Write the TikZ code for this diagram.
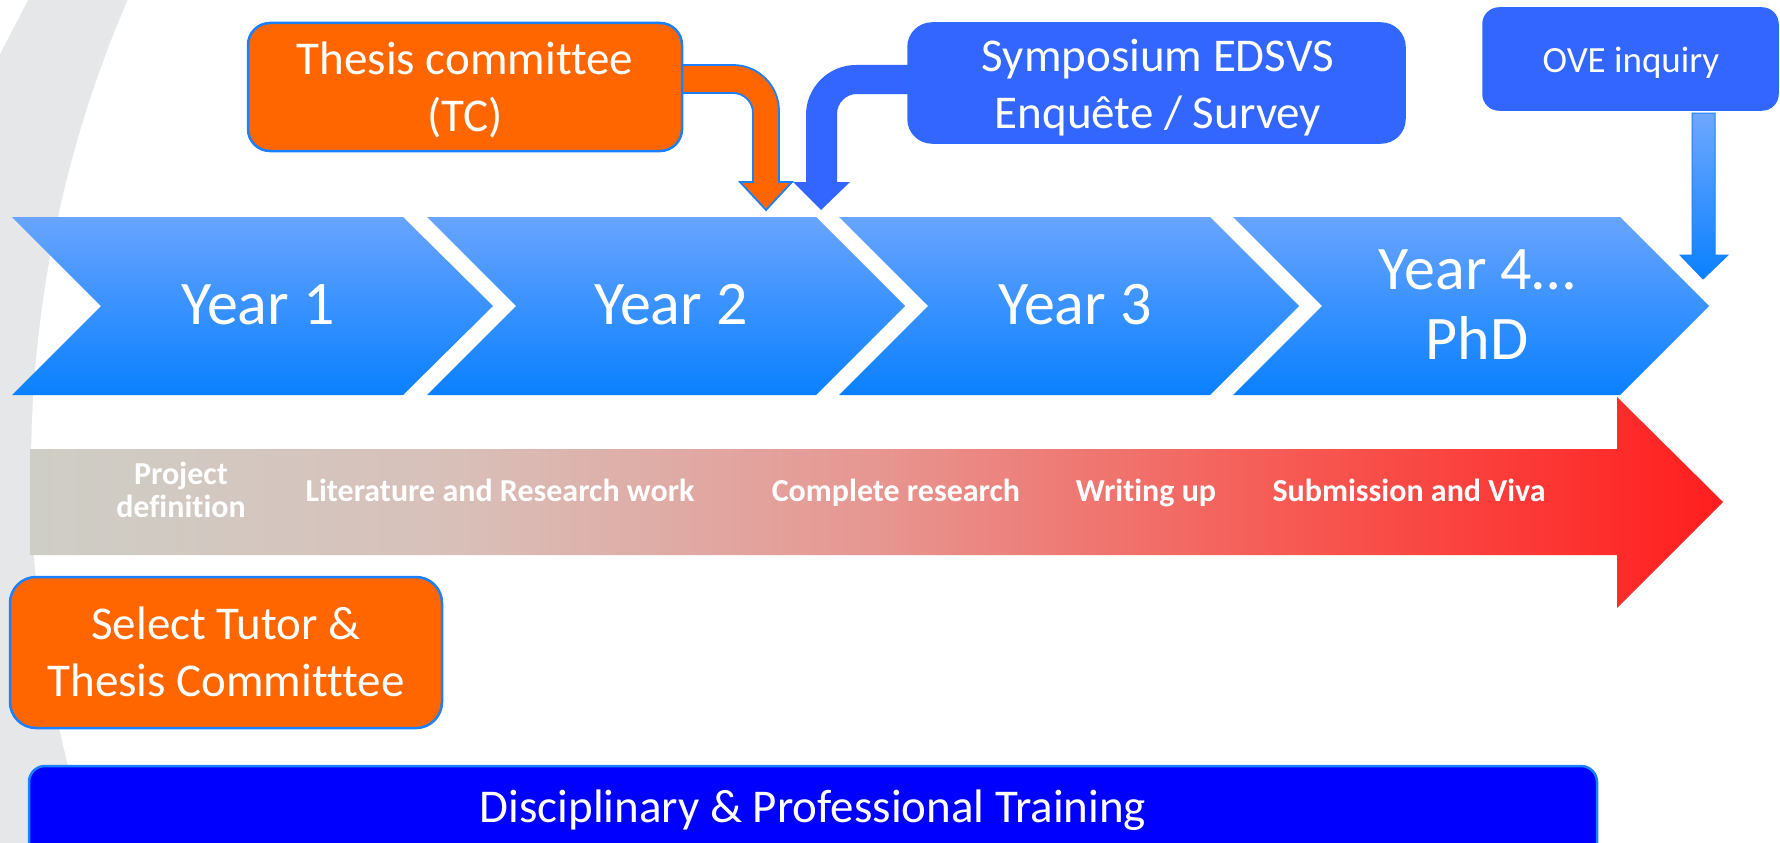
\documentclass[tikz,border=0pt]{standalone}
\usepackage{fontspec}
\setmainfont{Carlito}[Ligatures=NoCommon]
\definecolor{orng}{RGB}{255,102,0}
\definecolor{edgeblue}{RGB}{26,128,255}
\definecolor{symblue}{RGB}{51,102,255}
\definecolor{chevtop}{RGB}{104,164,255}
\definecolor{chevbot}{RGB}{10,128,255}
\definecolor{ovetop}{RGB}{110,168,255}
\definecolor{trainblue}{RGB}{0,0,255}
\definecolor{bggrey}{RGB}{230,231,232}
\definecolor{rg0}{RGB}{206,206,198}
\definecolor{rg1}{RGB}{216,192,185}
\definecolor{rg2}{RGB}{231,150,145}
\definecolor{rg3}{RGB}{247,88,82}
\definecolor{rg4}{RGB}{255,30,30}
\pgfdeclarehorizontalshading{redgrad}{100bp}{color(0bp)=(rg0); color(25bp)=(rg0); color(37.5bp)=(rg1); color(50bp)=(rg2); color(62.5bp)=(rg3); color(75bp)=(rg4); color(100bp)=(rg4)}
\begin{document}
\begin{tikzpicture}[x=1pt,y=-1pt,
  orbox/.style={fill=orng, draw=edgeblue, line width=2.5pt, rounded corners=22pt, inner sep=0pt},
  symbox/.style={fill=symblue, draw=symblue!85!edgeblue, line width=1.5pt, rounded corners=24pt, inner sep=0pt},
  trainbox/.style={fill=trainblue, draw=edgeblue, line width=2.5pt, rounded corners=16pt, inner sep=0pt},
  chev/.style={top color=chevtop, bottom color=chevbot},
  wtxt/.style={text=white, inner sep=0pt, align=center},
  boxtxt/.style={wtxt, font=\fontsize{47}{57}\selectfont},
  yeartxt/.style={wtxt, font=\fontsize{62}{70}\selectfont},
  phasetxt/.style={wtxt, font=\fontsize{32}{33}\selectfont\bfseries},
  ovetxt/.style={wtxt, font=\fontsize{37}{44}\selectfont}]
\useasboundingbox (0,0) rectangle (1780,843);
\clip (0,0) rectangle (1780,843);
% background
\fill[white] (0,0) rectangle (1780,843);
\fill[bggrey] (0,0) rectangle (300,843);
\fill[white] (1218,470) circle[radius=1187];
\fill[white] (0,0) -- (28,0) -- (0,54) -- cycle;

% year chevrons
\shade[chev] (12,217) -- (403,217) -- (493,306) -- (403,395) -- (12,395) -- (101,306) -- cycle;
\shade[chev] (427,217) -- (816,217) -- (905,306) -- (816,395) -- (427,395) -- (516,306) -- cycle;
\shade[chev] (839,217) -- (1210,217) -- (1299,306) -- (1210,395) -- (839,395) -- (928,306) -- cycle;
\shade[chev] (1233,217) -- (1620,217) -- (1709,306) -- (1620,395) -- (1233,395) -- (1322,306) -- cycle;
\node[yeartxt, anchor=base] (y1) at (258,324) {Year 1};
\node[yeartxt, anchor=base] (y2) at (671,324) {Year 2};
\node[yeartxt, anchor=base] (y3) at (1075,324) {Year 3};
\node[yeartxt] (y4) at (1477,305) {Year 4…\\PhD};

% red progress arrow
\shade[shading=redgrad] (30,449) -- (1617,449) -- (1617,397) -- (1723,502) -- (1617,608) -- (1617,555) -- (30,555) -- cycle;
\node[phasetxt] (p1) at (181,490) {Project\\definition};
\node[phasetxt, anchor=base] (p2) at (500,501) {Literature and Research work};
\node[phasetxt, anchor=base] (p3) at (896,501) {Complete research};
\node[phasetxt, anchor=base] (p4) at (1146,501) {Writing up};
\node[phasetxt, anchor=base] (p5) at (1409,501) {Submission and Viva};

% bent arrows
\filldraw[fill=orng, draw=edgeblue, line width=1.8pt] (682,65) -- (733,65) arc[start angle=-90, end angle=0, radius=46] -- (779,182) -- (792,182) -- (766,210) -- (740,182) -- (753,182) -- (753,113) arc[start angle=0, end angle=-90, radius=20] -- (682,93) -- cycle;
\fill[symblue] (910,65) -- (856,65) arc[start angle=-90, end angle=-180, radius=50] -- (806,182) -- (793,182) -- (821,210) -- (850,182) -- (837,182) -- (837,114) arc[start angle=180, end angle=270, radius=20] -- (910,94) -- cycle;

% OVE arrow
\shade[top color=ovetop, bottom color=chevbot, draw=edgeblue, line width=1pt] (1692,113) -- (1715,113) -- (1715,255) -- (1728,255) -- (1703,279) -- (1680,255) -- (1692,255) -- cycle;

% boxes
\node[orbox, minimum width=434pt, minimum height=128pt] (tc) at (465,87) {};
\node[boxtxt] (tct) at (465,90) {Thesis committee\\(TC)};
\node[symbox, minimum width=497pt, minimum height=120pt] (sym) at (1156.5,83) {};
\node[boxtxt] (symt) at (1158,88) {Symposium EDSVS\\Enquête / Survey};
\node[symbox, rounded corners=16pt, minimum width=295pt, minimum height=102pt] (ove) at (1630.5,59) {};
\node[ovetxt, anchor=base] (ovet) at (1631,73) {OVE inquiry};
\node[orbox, rounded corners=26pt, minimum width=432pt, minimum height=151pt] (sel) at (226,652.5) {};
\node[boxtxt] (selt) at (226,652) {Select Tutor \&\\Thesis Committtee};
\node[trainbox, minimum width=1568pt, minimum height=100pt] (train) at (813,816) {};
\node[boxtxt, anchor=base] (traint) at (813,822) {Disciplinary \& Professional Training};
\end{tikzpicture}
\end{document}
